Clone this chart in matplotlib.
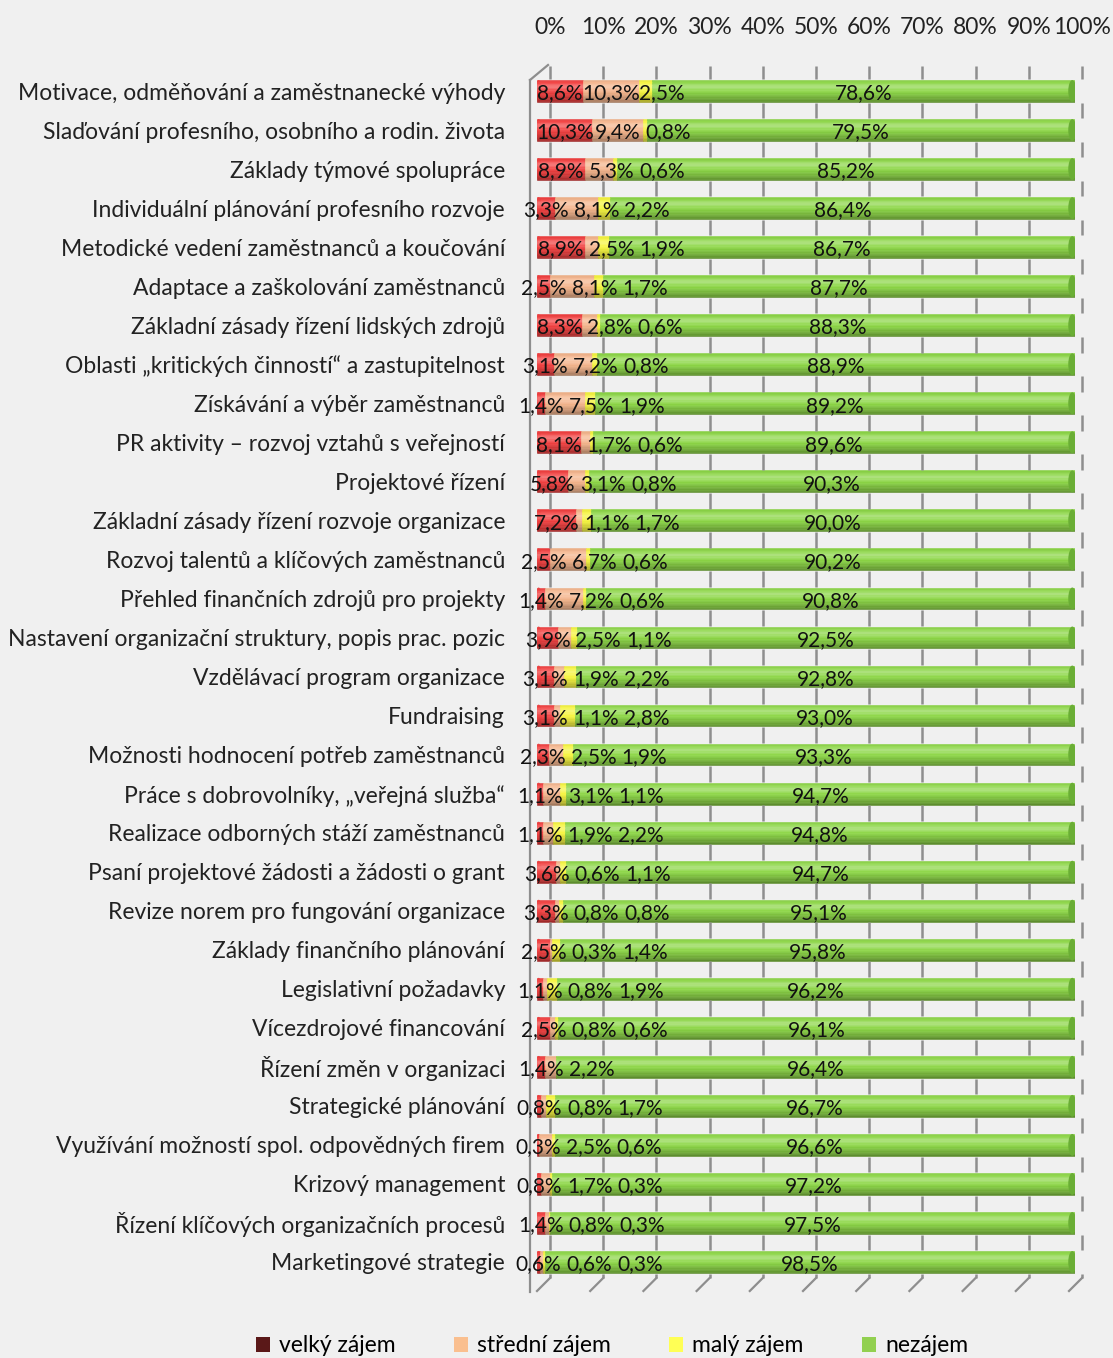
import numpy as np
import matplotlib
matplotlib.use("Agg")
import matplotlib.pyplot as plt
from matplotlib.colors import to_rgb
from matplotlib.patches import Ellipse, Patch
from matplotlib.lines import Line2D

plt.rcParams['font.family'] = ['Lato', 'DejaVu Sans']

categories = [
    "Motivace, odměňování a zaměstnanecké výhody",
    "Slaďování profesního, osobního a rodin. života",
    "Základy týmové spolupráce",
    "Individuální plánování profesního rozvoje",
    "Metodické vedení zaměstnanců a koučování",
    "Adaptace a zaškolování zaměstnanců",
    "Základní zásady řízení lidských zdrojů",
    "Oblasti „kritických činností“ a zastupitelnost",
    "Získávání a výběr zaměstnanců",
    "PR aktivity – rozvoj vztahů s veřejností",
    "Projektové řízení",
    "Základní zásady řízení rozvoje organizace",
    "Rozvoj talentů a klíčových zaměstnanců",
    "Přehled finančních zdrojů pro projekty",
    "Nastavení organizační struktury, popis prac. pozic",
    "Vzdělávací program organizace",
    "Fundraising",
    "Možnosti hodnocení potřeb zaměstnanců",
    "Práce s dobrovolníky, „veřejná služba“",
    "Realizace odborných stáží zaměstnanců",
    "Psaní projektové žádosti a žádosti o grant",
    "Revize norem pro fungování organizace",
    "Základy finančního plánování",
    "Legislativní požadavky",
    "Vícezdrojové financování",
    "Řízení změn v organizaci",
    "Strategické plánování",
    "Využívání možností spol. odpovědných firem",
    "Krizový management",
    "Řízení klíčových organizačních procesů",
    "Marketingové strategie",
]

velky = [8.6, 10.3, 8.9, 3.3, 8.9, 2.5, 8.3, 3.1, 1.4, 8.1, 5.8, 7.2, 2.5, 1.4, 3.9, 3.1,
         3.1, 2.3, 1.1, 1.1, 3.6, 3.3, 2.5, 1.1, 2.5, 1.4, 0.8, 0.3, 0.8, 1.4, 0.6]
stredni = [10.3, 9.4, 5.3, 8.1, 2.5, 8.1, 2.8, 7.2, 7.5, 1.7, 3.1, 1.1, 6.7, 7.2, 2.5, 1.9,
           1.1, 2.5, 3.1, 1.9, 0.6, 0.8, 0.3, 0.8, 0.8, 2.2, 0.8, 2.5, 1.7, 0.8, 0.6]
maly = [2.5, 0.8, 0.6, 2.2, 1.9, 1.7, 0.6, 0.8, 1.9, 0.6, 0.8, 1.7, 0.6, 0.6, 1.1, 2.2,
        2.8, 1.9, 1.1, 2.2, 1.1, 0.8, 1.4, 1.9, 0.6, 0.0, 1.7, 0.6, 0.3, 0.3, 0.3]
nezajem = [78.6, 79.5, 85.2, 86.4, 86.7, 87.7, 88.3, 88.9, 89.2, 89.6, 90.3, 90.0, 90.2,
           90.8, 92.5, 92.8, 93.0, 93.3, 94.7, 94.8, 94.7, 95.1, 95.8, 96.2, 96.1, 96.4,
           96.7, 96.6, 97.2, 97.5, 98.5]

series_names = ["velký zájem", "střední zájem", "malý zájem", "nezájem"]
bar_colors = ["#F24040", "#F5B58C", "#F6F53E", "#8CD646"]
legend_colors = ["#5A1818", "#FABF8F", "#FFFF55", "#92D050"]
tick_values = list(range(0, 101, 10))

W, H = 1113, 1358
BG = "#F0F0F0"
GRID = "#8E8E8E"


def px_rect(x0, x1, y0, y1):
    # pixel box (from top-left) -> figure fraction rect
    return [x0 / W, 1 - y1 / H, (x1 - x0) / W, (y1 - y0) / H]


def fig_line(xs, ys, **kw):
    fig.add_artist(Line2D([x / W for x in xs], [1 - y / H for y in ys],
                          transform=fig.transFigure, **kw))


def cylinder(color, n=16):
    # shades from the bottom edge up: dark bottom, bright band near the top
    rgb = np.array(to_rgb(color))
    t = (np.arange(n) + 0.5) / n
    f = np.where(t < 0.75, 0.62 + 0.52 * (t / 0.75) ** 0.8,
                 1.14 - 0.2 * (t - 0.75) / 0.25)
    out = []
    for v in f:
        if v <= 1:
            c = rgb * v
        else:
            c = rgb + (1 - rgb) * (v - 1) * 2.2
        out.append(tuple(np.clip(c, 0, 1)))
    return out


fig = plt.figure(figsize=(W / 100, H / 100), dpi=100, facecolor=BG)

# back wall: percentage axis along the top
back = fig.add_axes(px_rect(550, 1082, 66, 1278), zorder=0)
back.set_frame_on(False)
back.set_xlim(0, 100)
back.set_ylim(0, 1)
back.set_xticks(tick_values)
back.set_xticklabels([f"{v}%" for v in tick_values], fontsize=16.5)
back.xaxis.tick_top()
back.tick_params(axis="x", length=0, pad=20, colors="#222222")
back.set_yticks([])

# side wall and floor edges
for v in tick_values:
    xb = 550 + 5.32 * v
    fig_line([xb, xb - 13], [1278, 1291], color=GRID, linewidth=1.6, zorder=1)
fig_line([530, 530], [80, 1292], color=GRID, linewidth=1.6, zorder=1)
fig_line([530, 548], [80, 65], color=GRID, linewidth=1.6, zorder=1)

# front plane with the bars
n = len(categories)
row_px = (1262 - 91) / (n - 1)
top_lim = (60 - 91) / row_px
bot_lim = (1290 - 91) / row_px
ax = fig.add_axes(px_rect(537, 1075, 60, 1290), zorder=2)
ax.set_frame_on(False)

ypos = np.arange(n)
bh = 0.56
nslice = 16
sh = bh / nslice
data = [velky, stredni, maly, nezajem]
lefts = np.zeros(n)
for k in range(4):
    vals = np.array(data[k])
    for j, c in enumerate(cylinder(bar_colors[k], nslice)):
        yc = ypos + bh / 2 - (j + 0.5) * sh
        ax.barh(yc, vals, left=lefts, height=sh, color=c, edgecolor=c,
                linewidth=0.4, zorder=2)
    lefts = lefts + vals

# data labels, pushed right where neighbours would collide
for i in range(n):
    left = 0.0
    prev_label = -100.0
    for k in range(4):
        v = data[k][i]
        if v <= 0:
            continue
        mid = left + v / 2
        if k < 3:
            xl = max(mid, prev_label + 9.4)
            prev_label = xl
        else:
            xl = mid
        ax.text(xl, i + 0.06, f"{v:.1f}%".replace(".", ","), ha="center", va="center",
                fontsize=15, color="#111111", zorder=6)
        left += v
    # rounded ends of the cylinder
    ax.add_patch(Ellipse((left - 0.5, i), 1.5, bh, facecolor="#6AAE35",
                         edgecolor="none", zorder=3))
    ax.add_patch(Ellipse((0.3, i), 1.2, bh, facecolor="#E85555",
                         edgecolor="none", zorder=1.5))

ax.set_xlim(0, 100)
ax.set_ylim(bot_lim, top_lim)
ax.set_xticks([])
ax.set_yticks(ypos)
ax.set_yticklabels(categories, fontsize=16.5, color="#222222")
ax.tick_params(axis="y", length=0, pad=23)

# overlay axes for the back-wall gridlines, drawn only in the gaps between cylinders
grid_ax = fig.add_axes(px_rect(537, 1075, 60, 1290), zorder=3)
grid_ax.set_frame_on(False)
grid_ax.set_xlim(0, 100)
grid_ax.set_ylim(bot_lim, top_lim)
grid_ax.set_xticks([])
grid_ax.set_yticks([])
grid_top = top_lim + (66 - 60) / row_px
grid_bot = top_lim + (1278 - 60) / row_px
seg_lo = np.concatenate([[grid_top], ypos + bh / 2 + 0.02])
seg_hi = np.concatenate([ypos - bh / 2 - 0.02, [grid_bot]])
for v in tick_values:
    gx = (550 + 5.32 * v - 537) / 5.38
    for lo, hi in zip(seg_lo, seg_hi):
        grid_ax.plot([gx, gx], [lo, hi], color=GRID, linewidth=1.8,
                     solid_capstyle="butt", clip_on=False)

handles = [Patch(facecolor=c, edgecolor="none") for c in legend_colors]
fig.legend(handles, series_names, loc="lower center", bbox_to_anchor=(0.55, -0.014),
           ncol=4, frameon=False, fontsize=16.5, handlelength=0.6, handleheight=0.6,
           handletextpad=0.4, columnspacing=2.55)

fig.savefig("out.png", dpi=100, facecolor=BG)
